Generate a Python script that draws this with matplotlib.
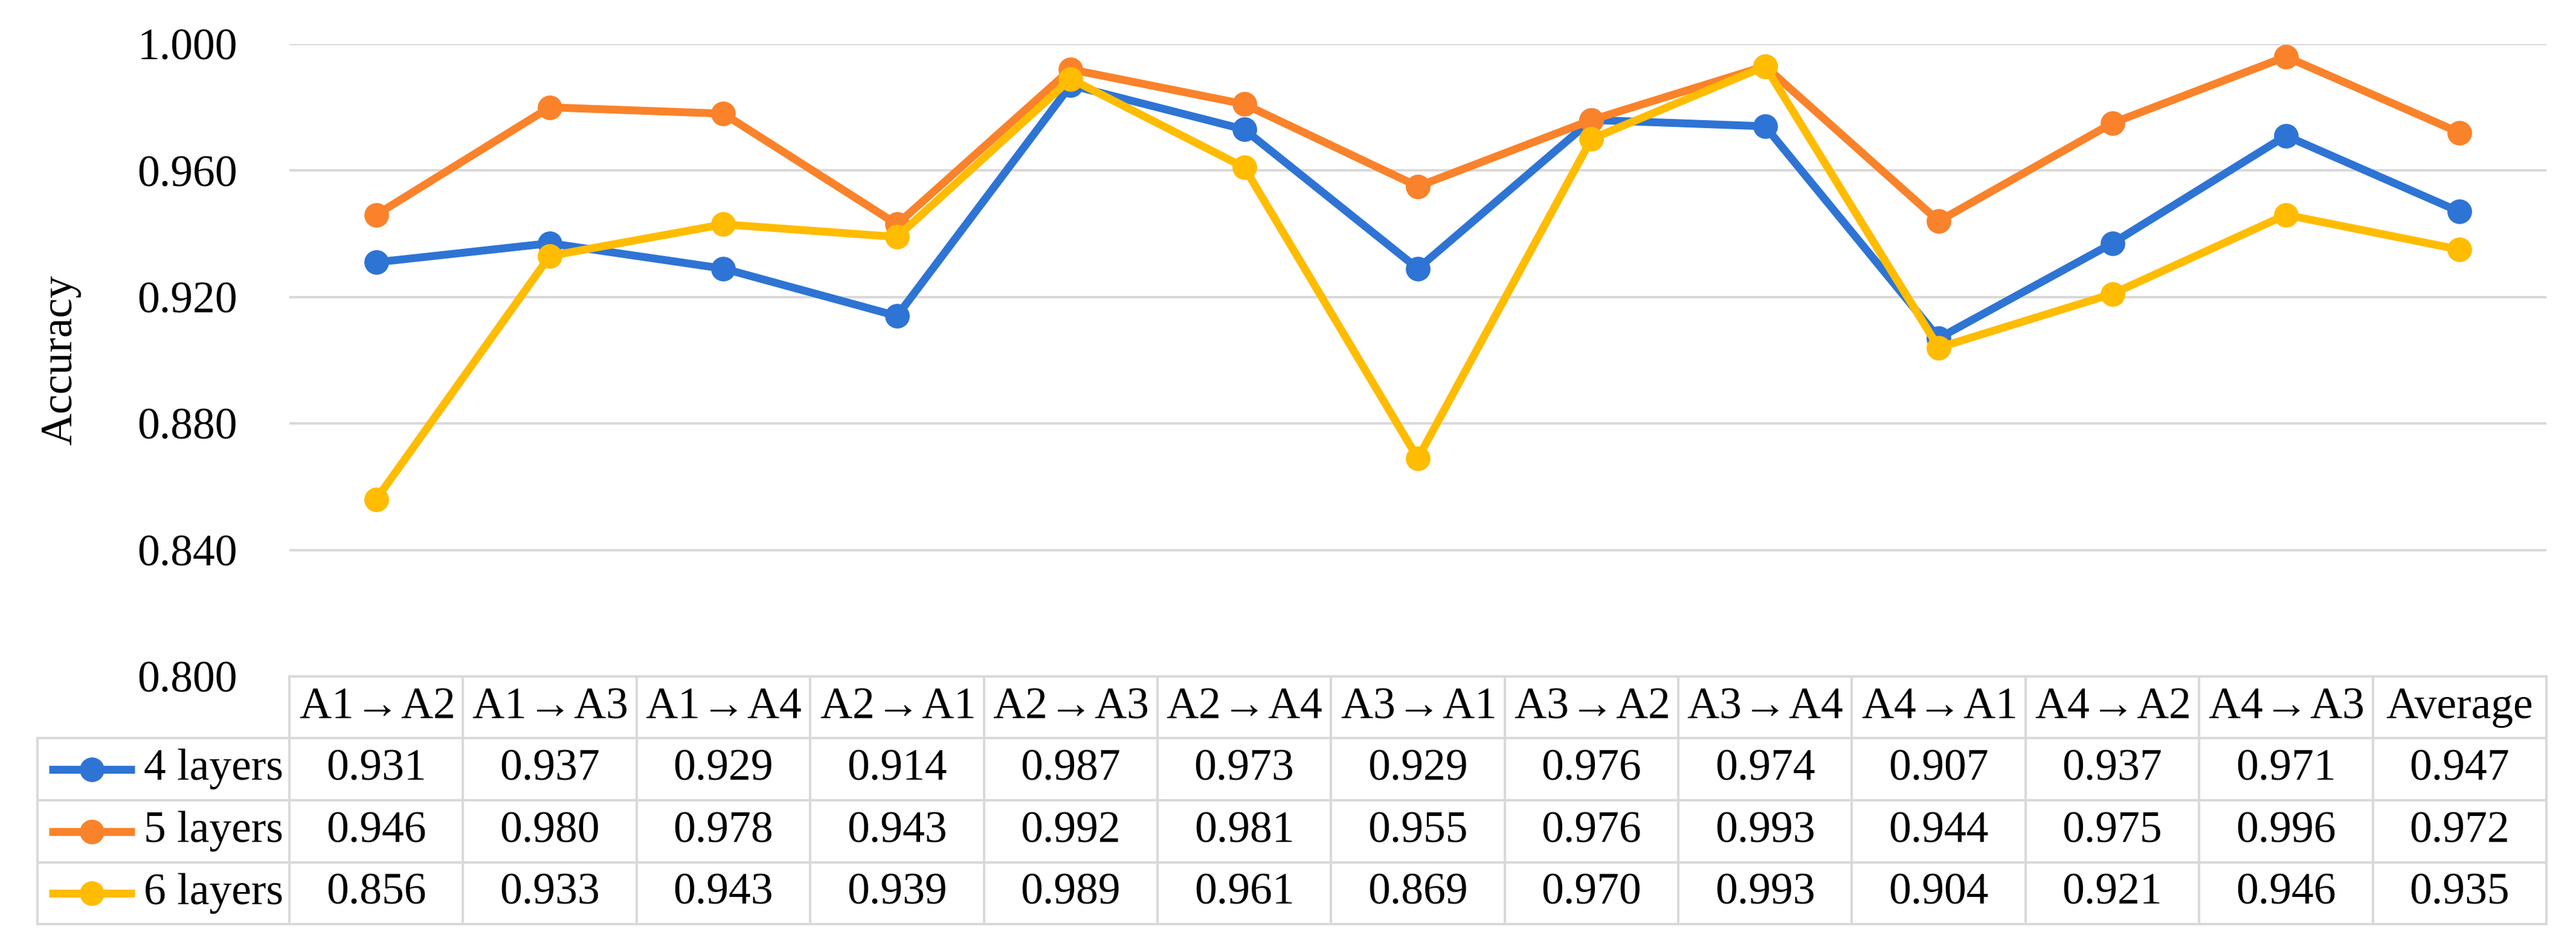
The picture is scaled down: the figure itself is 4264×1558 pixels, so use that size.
import matplotlib
matplotlib.use("Agg")
import matplotlib.pyplot as plt
import matplotlib.transforms as mtransforms
import numpy as np

# -------- DATA --------
categories = ["A1→A2", "A1→A3", "A1→A4", "A2→A1", "A2→A3", "A2→A4",
              "A3→A1", "A3→A2", "A3→A4", "A4→A1", "A4→A2", "A4→A3", "Average"]
series_names = ["4 layers", "5 layers", "6 layers"]
acc_4 = [0.931, 0.937, 0.929, 0.914, 0.987, 0.973, 0.929, 0.976, 0.974, 0.907, 0.937, 0.971, 0.947]
acc_5 = [0.946, 0.980, 0.978, 0.943, 0.992, 0.981, 0.955, 0.976, 0.993, 0.944, 0.975, 0.996, 0.972]
acc_6 = [0.856, 0.933, 0.943, 0.939, 0.989, 0.961, 0.869, 0.970, 0.993, 0.904, 0.921, 0.946, 0.935]
y_ticks = [0.800, 0.840, 0.880, 0.920, 0.960, 1.000]

# -------- STYLE --------
COLORS = ["#2E74D4", "#FA822A", "#FFBC00"]
GRID_COLOR = "#D9D9D9"
FONT = ["Liberation Serif", "DejaVu Serif"]
FS = 26.5
W, H, DPI = 4264, 1558, 200

plt.rcParams["font.family"] = FONT
plt.rcParams["mathtext.fontset"] = "custom"
plt.rcParams["mathtext.rm"] = "Liberation Serif"
plt.rcParams["mathtext.fallback"] = "cm"

# layout in pixels (from top-left)
AX_LEFT, AX_RIGHT, AX_TOP, AX_BOTTOM = 479, 4215, 73, 1120
ROW_EDGES = [1120, 1222, 1325, 1428, 1530]
LEG_COL_W = 1.45  # legend column width, in category units

fig = plt.figure(figsize=(W / DPI, H / DPI), dpi=DPI)
ax = fig.add_axes([AX_LEFT / W, 1 - AX_BOTTOM / H,
                   (AX_RIGHT - AX_LEFT) / W, (AX_BOTTOM - AX_TOP) / H])

x = np.arange(len(categories))
all_series = [acc_4, acc_5, acc_6]
lw = 13 / DPI * 72
ms = 38 / DPI * 72
for vals, color in zip(all_series, COLORS):
    ax.plot(x, vals, color=color, lw=lw, marker="o", markersize=ms,
            solid_capstyle="round", clip_on=False, zorder=3)

ax.set_xlim(-0.5, len(categories) - 0.5)
ax.set_ylim(0.8, 1.0)
ax.set_yticks(y_ticks)
ax.set_yticklabels([f"{t:.3f}" for t in y_ticks], fontsize=FS)
ax.set_xticks([])
ax.tick_params(axis="y", length=0, pad=31)
for s in ax.spines.values():
    s.set_visible(False)
ax.yaxis.grid(True, color=GRID_COLOR, lw=4 / DPI * 72)
ax.set_axisbelow(True)
ax.set_ylabel("Accuracy", fontsize=FS)
ax.yaxis.set_label_coords((134 - AX_LEFT) / (AX_RIGHT - AX_LEFT), 0.5)

# -------- TABLE --------
trans = mtransforms.blended_transform_factory(ax.transData, fig.transFigure)
fy = lambda py: 1 - py / H
tlw = 4 / DPI * 72
x_right = len(categories) - 0.5
x_leg = -0.5 - LEG_COL_W


def hline(x0, x1, py):
    ax.plot([x0, x1], [fy(py), fy(py)], color=GRID_COLOR, lw=tlw,
            transform=trans, clip_on=False, zorder=1)


def vline(xx, py0, py1):
    ax.plot([xx, xx], [fy(py0), fy(py1)], color=GRID_COLOR, lw=tlw,
            transform=trans, clip_on=False, zorder=1)


hline(-0.5, x_right, ROW_EDGES[0])
for py in ROW_EDGES[1:]:
    hline(x_leg, x_right, py)
for i in range(len(categories) + 1):
    vline(i - 0.5, ROW_EDGES[0], ROW_EDGES[-1])
vline(x_leg, ROW_EDGES[1], ROW_EDGES[-1])

hdr_y = fy((ROW_EDGES[0] + ROW_EDGES[1]) / 2)
for i, cat in enumerate(categories):
    # long arrow like the original's fallback glyph
    label = cat.replace("→", r"$\!\rightarrow\!$")
    ax.text(i, hdr_y, label, transform=trans, ha="center", va="center",
            fontsize=FS, clip_on=False)

for r, (name, vals, color) in enumerate(zip(series_names, all_series, COLORS)):
    cy = fy((ROW_EDGES[r + 1] + ROW_EDGES[r + 2]) / 2)
    for i, v in enumerate(vals):
        ax.text(i, cy, f"{v:.3f}", transform=trans, ha="center", va="center",
                fontsize=FS, clip_on=False)
    # legend key
    lx0, lx1 = x_leg + 0.065, x_leg + 0.56
    ax.plot([lx0, lx1], [cy, cy], color=color, lw=lw, transform=trans,
            clip_on=False, solid_capstyle="butt")
    ax.plot([(lx0 + lx1) / 2], [cy], marker="o", markersize=ms, color=color,
            transform=trans, clip_on=False)
    ax.text(lx1 + 0.05, cy, name, transform=trans, ha="left", va="center",
            fontsize=FS, clip_on=False)

fig.savefig("out.png", dpi=DPI, facecolor="white")
